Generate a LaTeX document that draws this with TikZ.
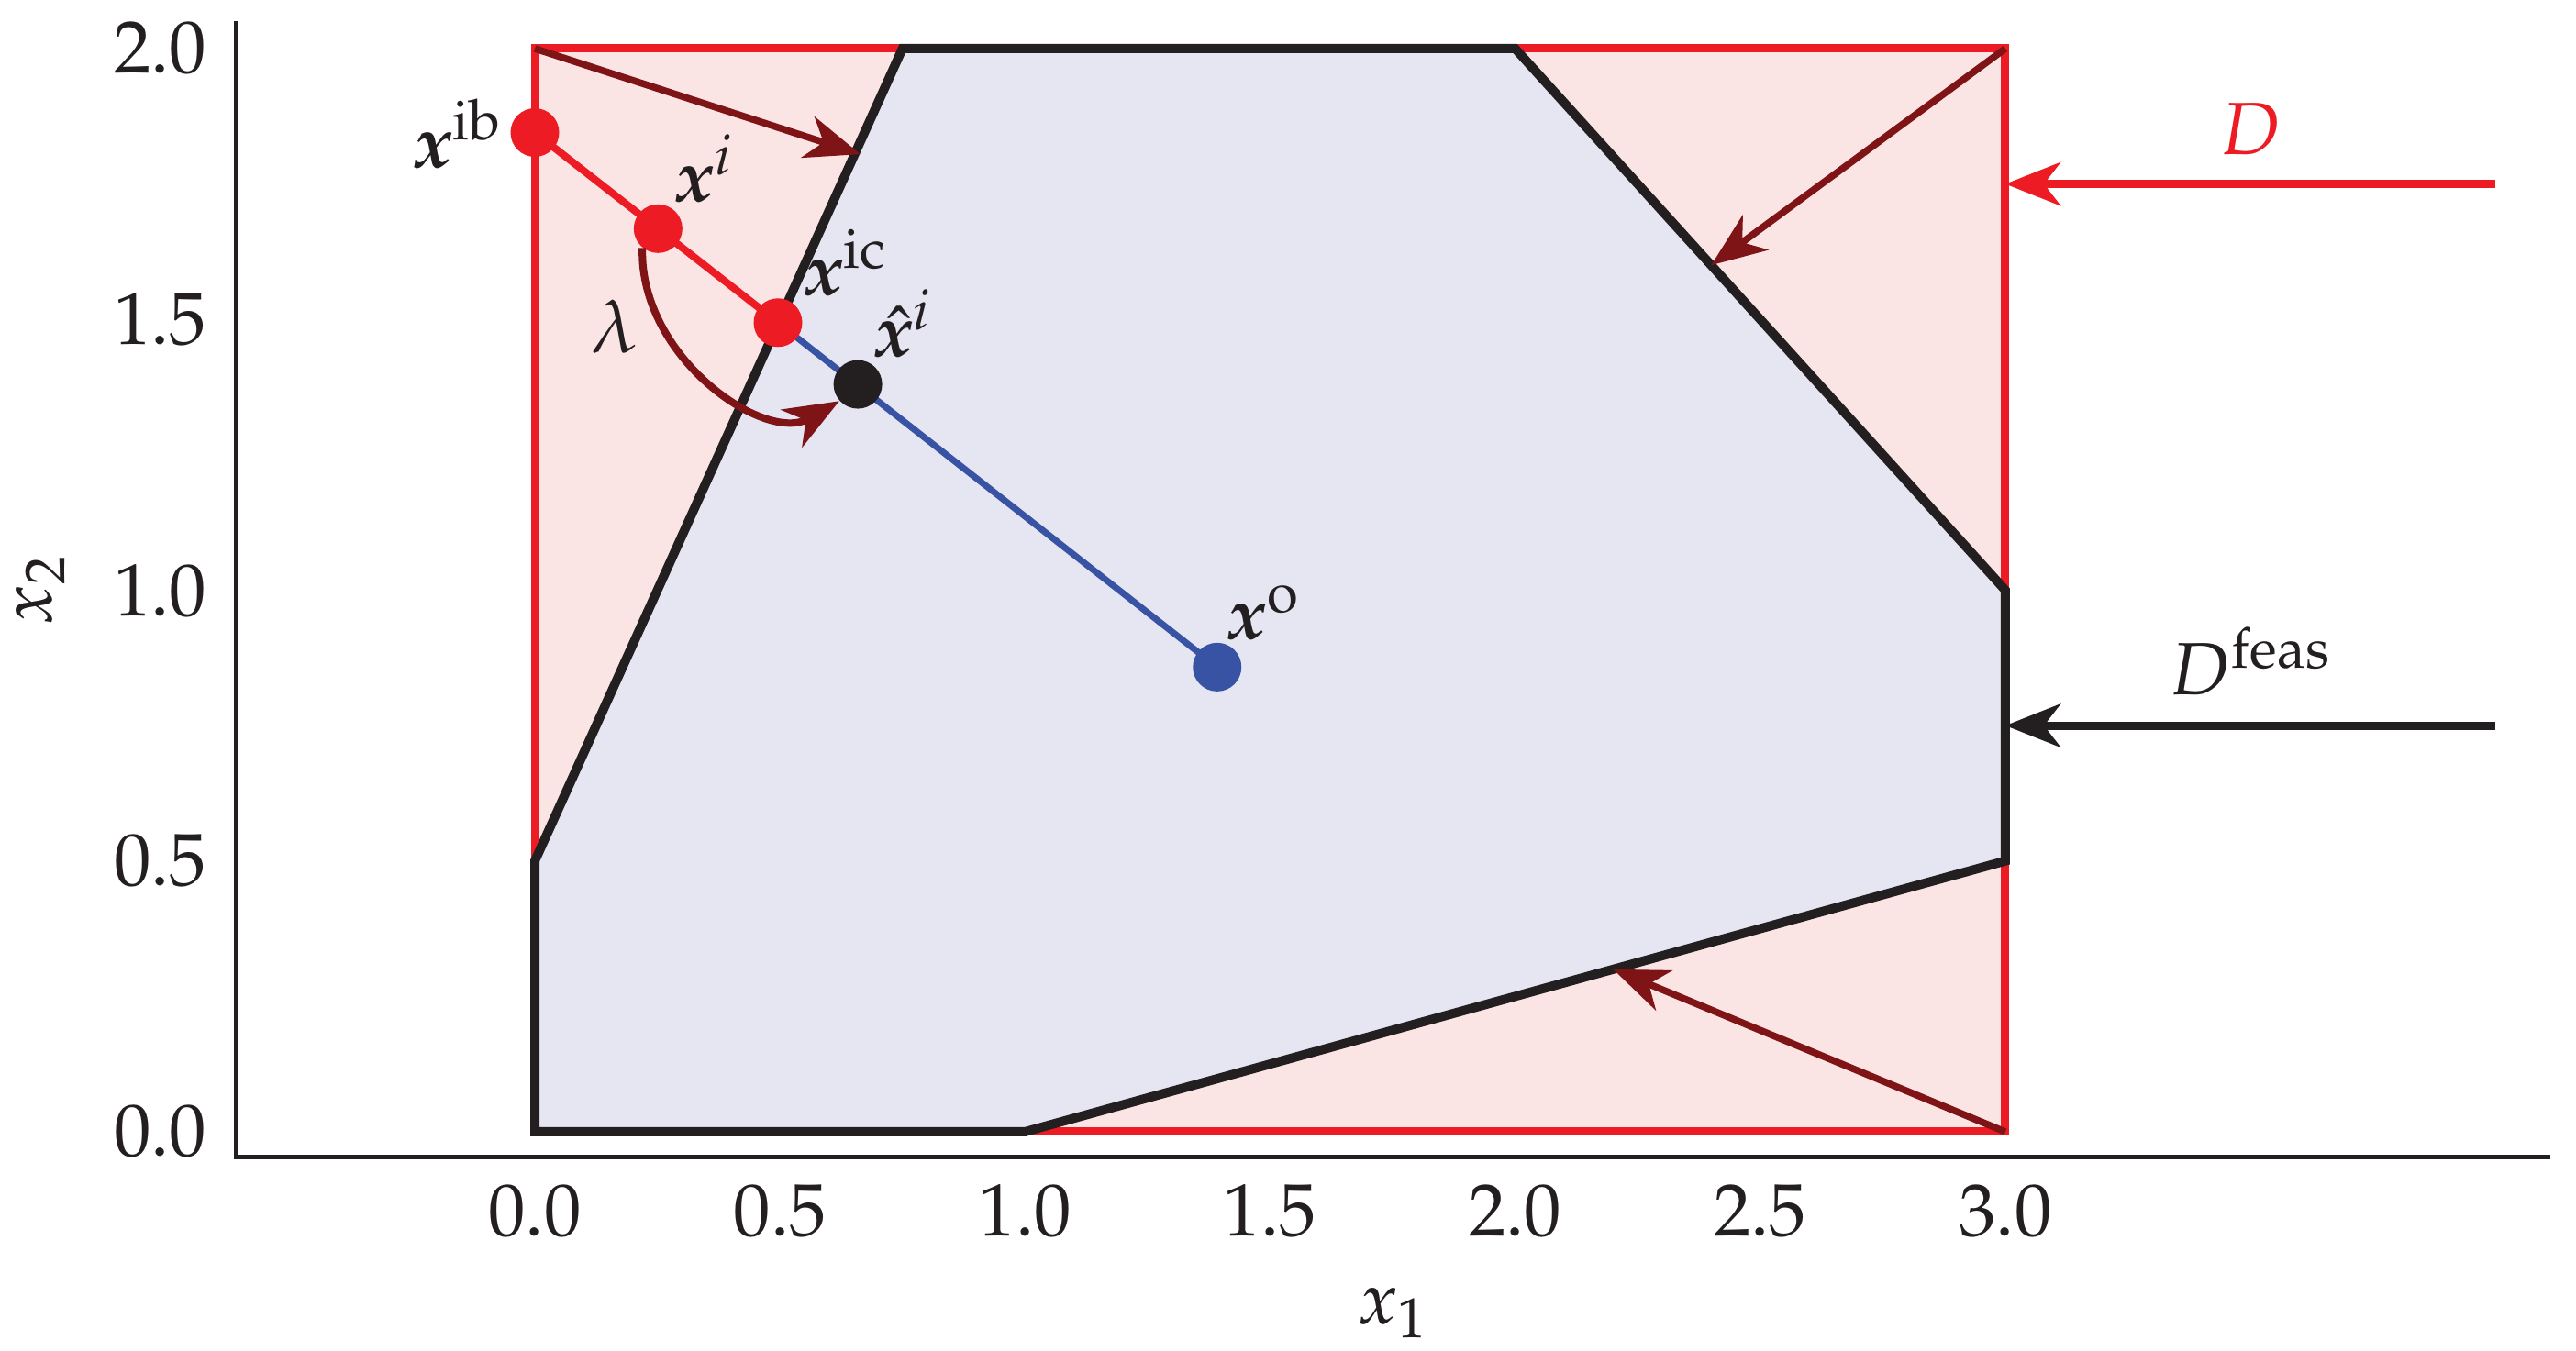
\documentclass[tikz,border=0pt]{standalone}
\usepackage{mathpazo}
\usepackage{bm}
\usetikzlibrary{arrows.meta}
\definecolor{cred}{RGB}{237,28,36}
\definecolor{cpink}{RGB}{251,228,228}
\definecolor{clav}{RGB}{230,230,242}
\definecolor{cblue}{RGB}{57,83,164}
\definecolor{cblack}{RGB}{35,31,32}
\definecolor{cdark}{RGB}{127,20,22}
\DeclareMathSizes{23}{23}{17.5}{12.5}
\begin{document}
\begin{tikzpicture}[
  lab/.style={font=\fontsize{23}{28}\selectfont, inner sep=0pt, text=cblack},
  dotnode/.style={circle, inner sep=0pt, minimum size=0.53cm},
  tipA/.style={-{Stealth[length=0.6cm,width=0.47cm,inset=0.18cm]}},
  darrow/.style={tipA, draw=cdark, line width=0.075cm},
  axisline/.style={draw=cblack, line width=0.045cm},
]
\useasboundingbox (0,0) rectangle (28.08,14.73);
\begin{scope}[shift={(5.83,2.39)}, x=5.343cm, y=5.905cm]
% region D and feasible region
\fill[cpink] (0,0) rectangle (3,2);
\fill[clav] (0,0) -- (1,0) -- (3,0.5) -- (3,1) -- (2,2) -- (0.75,2) -- (0,0.5) -- cycle;
\draw[cred, line width=0.09cm] (0,0) rectangle (3,2);
\draw[cblack, line width=0.1cm] (0,0) -- (1,0) -- (3,0.5) -- (3,1) -- (2,2) -- (0.75,2) -- (0,0.5) -- cycle;
% axes
\coordinate (ax0) at (-0.61,-0.047);
\coordinate (axx) at (4.112,-0.047);
\coordinate (axy) at (-0.61,2.051);
\draw[axisline] (axy) -- (ax0) -- (axx);
\foreach \v [count=\i] in {0.0,0.5,1.0,1.5,2.0,2.5,3.0}
  \node[lab] (xt\i) at (\v,-0.146) {$\v$};
\foreach \v [count=\i] in {0.0,0.5,1.0,1.5,2.0}
  \node[lab, anchor=east] (yt\i) at (-0.668,\v) {$\v$};
\node[lab, anchor=base] (xlab) at (1.75,-0.354) {$x_1$};
\node[lab, anchor=base, rotate=90] (ylab) at (-0.985,1.0) {$x_2$};
% corner arrows
\coordinate (c1) at (0,2);
\coordinate (t1) at (0.664,1.805);
\coordinate (c2) at (3,2);
\coordinate (t2) at (2.4,1.6);
\coordinate (c3) at (3,0);
\coordinate (t3) at (2.2,0.3);
\draw[darrow] (c1) -- (t1);
\draw[darrow] (c2) -- (t2);
\draw[darrow] (c3) -- (t3);
% legend arrows
\coordinate (dtail) at (4.0,1.75);
\coordinate (dtip) at (3.0,1.75);
\coordinate (ftail) at (4.0,0.75);
\coordinate (ftip) at (3.0,0.75);
\draw[tipA, draw=cred, line width=0.09cm] (dtail) -- (dtip);
\draw[tipA, draw=cblack, line width=0.09cm] (ftail) -- (ftip);
\node[lab, anchor=base, text=cred] (Dlab) at (3.5,1.805) {$D$};
\node[lab, anchor=base] (Dflab) at (3.5,0.807) {$D^{\mathrm{feas}}$};
% points
\coordinate (pib) at (0,1.845);
\coordinate (pi) at (0.2514,1.6675);
\coordinate (pic) at (0.496,1.494);
\coordinate (ph) at (0.659,1.38);
\coordinate (po) at (1.392,0.858);
\draw[cred, line width=0.08cm] (pib) -- (pic);
\draw[cblue, line width=0.07cm] (pic) -- (po);
\node[dotnode, fill=cred] (dib) at (pib) {};
\node[dotnode, fill=cred] (di) at (pi) {};
\node[dotnode, fill=cred] (dic) at (pic) {};
\node[dotnode, fill=cblack] (dh) at (ph) {};
\node[dotnode, fill=cblue] (do) at (po) {};
\draw[tipA, draw=cdark, line width=0.08cm]
  (di.-129) .. controls (0.2134,1.4293) and (0.4694,1.2706) .. (dh.-138);
% labels
\node[lab, anchor=base east] (lib) at (-0.0655,1.7815) {$\bm{x}^{\mathrm{ib}}$};
\node[lab, anchor=base west] (li) at (0.284,1.718) {$\bm{x}^{i}$};
\node[lab, anchor=base west] (lic) at (0.547,1.545) {$\bm{x}^{\mathrm{ic}}$};
\node[lab, anchor=base west] (lh) at (0.689,1.432) {$\hat{\bm{x}}^{i}$};
\node[lab, anchor=base west] (lo) at (1.4106,0.910) {$\bm{x}^{\mathrm{o}}$};
\node[lab] (llam) at (0.163,1.487) {$\lambda$};
\end{scope}
\end{tikzpicture}
\end{document}
